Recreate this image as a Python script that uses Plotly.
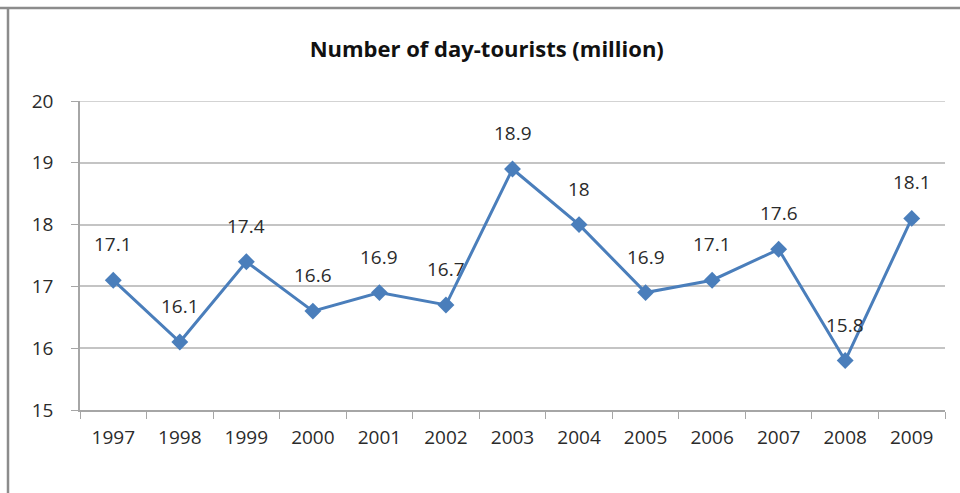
import plotly.graph_objects as go

years = ["1997", "1998", "1999", "2000", "2001", "2002", "2003",
         "2004", "2005", "2006", "2007", "2008", "2009"]
tourists = [17.1, 16.1, 17.4, 16.6, 16.9, 16.7, 18.9,
            18.0, 16.9, 17.1, 17.6, 15.8, 18.1]
labels = ["17.1", "16.1", "17.4", "16.6", "16.9", "16.7", "18.9",
          "18", "16.9", "17.1", "17.6", "15.8", "18.1"]
y_ticks = [15, 16, 17, 18, 19, 20]

BLUE = "#4a7ebb"
GRID = "#c4c4c4"
TEXT = "#2b2b2b"
FONT = "Open Sans"

fig = go.Figure()
fig.add_trace(go.Scatter(
    x=years, y=tourists, mode="lines+markers",
    line=dict(color=BLUE, width=3),
    marker=dict(symbol="diamond", size=13, color=BLUE),
    hoverinfo="skip", showlegend=False,
))

# value labels above each point (category axis positions are indices)
for i, (val, lab) in enumerate(zip(tourists, labels)):
    fig.add_annotation(x=i, y=val, xref="x", yref="y", text=lab,
                       showarrow=False, yshift=36,
                       font=dict(family=FONT, size=19, color=TEXT))

fig.update_layout(
    width=960, height=493,
    margin=dict(l=80, r=15, t=101, b=83),
    paper_bgcolor="white", plot_bgcolor="white",
    title=dict(text="<b>Number of day-tourists (million)</b>",
               x=0.507, xanchor="center", y=0.90, yanchor="middle",
               font=dict(family=FONT, size=22, color="#111111")),
    xaxis=dict(type="category", range=[-0.5, 12.5],
               tickson="boundaries", ticks="outside", ticklen=7,
               tickcolor="#a6a6a6", showline=True, linecolor="#a6a6a6",
               linewidth=1.5, showgrid=False, ticklabelstandoff=9,
               tickfont=dict(family=FONT, size=19, color=TEXT)),
    yaxis=dict(range=[15, 20], tickvals=y_ticks, ticks="outside",
               ticklen=7, tickcolor="#a6a6a6", showline=True,
               linecolor="#a6a6a6", linewidth=1.5,
               gridcolor=GRID, gridwidth=1.5, zeroline=False,
               ticklabelstandoff=14,
               tickfont=dict(family=FONT, size=19, color=TEXT)),
)

# gridline at the top of the value range
fig.add_shape(type="line", xref="paper", yref="y", x0=0, x1=1,
              y0=y_ticks[-1], y1=y_ticks[-1], layer="below",
              line=dict(color=GRID, width=1.5))

# chart frame along the top and left edges
fig.add_shape(type="line", xref="paper", yref="paper",
              x0=-80/865, x1=1.02, y0=1 + 93/309, y1=1 + 93/309,
              line=dict(color="#8c8c8c", width=2.5))
fig.add_shape(type="line", xref="paper", yref="paper",
              x0=-72/865, x1=-72/865, y0=-0.3, y1=1 + 93/309,
              line=dict(color="#8c8c8c", width=2.5))

fig.write_html("out.html")
